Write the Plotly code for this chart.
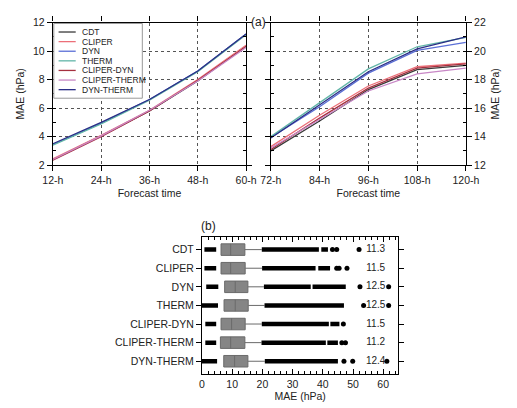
import plotly.graph_objects as go

W, H = 517, 408

series_names = ["CDT", "CLIPER", "DYN", "THERM", "CLIPER-DYN", "CLIPER-THERM", "DYN-THERM"]
series_colors = ["#3a3a3a", "#ec6f78", "#5b6fd6", "#62b5a8", "#a5303f", "#c887c6", "#2b2f86"]

hours_a = [12, 24, 36, 48, 60]
hours_b = [72, 84, 96, 108, 120]
tick_a = ["12-h", "24-h", "36-h", "48-h", "60-h"]
tick_b = ["72-h", "84-h", "96-h", "108-h", "120-h"]

mae_short = {
    "CDT":          [2.40, 4.05, 5.80, 7.90, 10.35],
    "CLIPER":       [2.45, 4.10, 5.85, 8.00, 10.40],
    "DYN":          [3.45, 4.95, 6.60, 8.60, 11.20],
    "THERM":        [3.40, 4.90, 6.55, 8.55, 11.15],
    "CLIPER-DYN":   [2.35, 4.00, 5.80, 7.95, 10.30],
    "CLIPER-THERM": [2.40, 4.05, 5.85, 7.90, 10.25],
    "DYN-THERM":    [3.50, 5.00, 6.60, 8.60, 11.20],
}
mae_long = {
    "CDT":          [13.00, 15.10, 17.30, 18.70, 19.00],
    "CLIPER":       [13.30, 15.50, 17.55, 18.90, 19.15],
    "DYN":          [13.95, 16.10, 18.45, 20.05, 20.60],
    "THERM":        [14.00, 16.40, 18.75, 20.30, 20.95],
    "CLIPER-DYN":   [13.10, 15.30, 17.40, 18.80, 19.10],
    "CLIPER-THERM": [13.20, 15.20, 17.20, 18.40, 18.80],
    "DYN-THERM":    [13.90, 16.20, 18.55, 20.15, 21.00],
}

# Box plot statistics (panel b)
box_q1 = [6.3, 6.3, 7.5, 7.3, 6.3, 6.1, 7.2]
box_med = [9.5, 9.5, 11.0, 11.0, 9.8, 9.5, 10.8]
box_q3 = [14.2, 14.3, 15.2, 15.3, 14.3, 14.2, 15.2]
box_whisk = [19.8, 19.9, 20.5, 20.7, 19.8, 19.7, 20.8]
low_runs = [[0.8, 4.7], [0.8, 4.7], [1.4, 5.4], [0.0, 5.3], [1.1, 4.7], [1.1, 4.7], [0.0, 5.0]]
high_runs = [
    [[19.8, 38.7], [39.5, 41.7]],
    [[19.9, 37.6], [38.5, 42.4]],
    [[20.5, 36.0], [36.6, 47.6]],
    [[20.7, 47.0]],
    [[19.8, 42.0], [42.5, 45.5]],
    [[19.7, 41.0], [41.5, 45.0]],
    [[20.8, 45.0]],
]
isolated = [
    [43.2, 44.6, 52.0],
    [44.6, 45.4, 48.0],
    [52.3, 61.8],
    [53.5, 61.8],
    [46.8],
    [46.3, 47.5],
    [47.0, 49.9, 61.2],
]
mean_labels = ["11.3", "11.5", "12.5", "12.5", "11.5", "11.2", "12.4"]
label_x = 57.5


def px_x(p):
    return p / W


def px_y(p):
    return 1 - p / H


FONT = "Liberation Sans, Arial, sans-serif"
TXT = "#222"

fig = go.Figure()

for name, col in zip(series_names, series_colors):
    fig.add_trace(go.Scatter(x=hours_a, y=mae_short[name], mode="lines", name=name,
                             line=dict(color=col, width=1.3), xaxis="x", yaxis="y",
                             showlegend=False))
    fig.add_trace(go.Scatter(x=hours_b, y=mae_long[name], mode="lines", name=name,
                             line=dict(color=col, width=1.3), xaxis="x2", yaxis="y2",
                             showlegend=False))

# Panel b: boxes
fig.add_trace(go.Box(
    y=series_names, q1=box_q1, median=box_med, q3=box_q3,
    lowerfence=box_q1, upperfence=box_whisk, orientation="h",
    fillcolor="#858585", line=dict(color="#6a6a6a", width=1),
    whiskerwidth=0, width=0.62, boxpoints=False,
    xaxis="x3", yaxis="y3", showlegend=False, hoverinfo="skip"))

# Dense outlier runs as thick segments
for cat, lows, highs in zip(series_names, low_runs, high_runs):
    xs, ys = [], []
    for seg in [lows] + highs:
        xs += [seg[0], seg[1], None]
        ys += [cat, cat, None]
    fig.add_trace(go.Scatter(x=xs, y=ys, mode="lines", line=dict(color="black", width=4.5),
                             xaxis="x3", yaxis="y3", showlegend=False, hoverinfo="skip"))

# Isolated outliers
for cat, pts in zip(series_names, isolated):
    fig.add_trace(go.Scatter(x=pts, y=[cat] * len(pts), mode="markers",
                             marker=dict(color="black", size=5),
                             xaxis="x3", yaxis="y3", showlegend=False, hoverinfo="skip"))

# Mean labels
fig.add_trace(go.Scatter(x=[label_x] * len(series_names), y=series_names, mode="text",
                         text=mean_labels, textfont=dict(family=FONT, size=10, color=TXT),
                         xaxis="x3", yaxis="y3", showlegend=False, hoverinfo="skip"))

axis_common = dict(showline=True, linecolor="black", linewidth=1.2, mirror="ticks",
                   tickfont=dict(family=FONT, size=10.5, color=TXT), ticklen=5,
                   tickcolor="black", zeroline=False)
grid = dict(showgrid=True, gridcolor="#555", griddash="dot", gridwidth=1)

# Manual compact legend (box, line samples, labels)
shapes = [dict(type="rect", xref="paper", yref="paper",
               x0=px_x(45), x1=px_x(138), y0=px_y(95), y1=px_y(18),
               fillcolor="white", line=dict(color="#999", width=1), layer="above")]
annotations = [
    dict(text="(a)", x=px_x(260), y=px_y(7), xref="paper", yref="paper",
         showarrow=False, font=dict(family=FONT, size=12, color=TXT)),
    dict(text="(b)", x=px_x(208), y=px_y(227), xref="paper", yref="paper",
         showarrow=False, font=dict(family=FONT, size=12, color=TXT)),
]
for i, (name, col) in enumerate(zip(series_names, series_colors)):
    yy = 26.8 + i * 9.9
    shapes.append(dict(type="line", xref="paper", yref="paper",
                       x0=px_x(50), x1=px_x(68), y0=px_y(yy), y1=px_y(yy),
                       line=dict(color=col, width=1.3), layer="above"))
    annotations.append(dict(text=name, x=px_x(72), y=px_y(yy), xref="paper", yref="paper",
                            xanchor="left", yanchor="middle", showarrow=False,
                            font=dict(family=FONT, size=8.5, color=TXT)))

fig.update_layout(
    width=W, height=H, margin=dict(l=0, r=0, t=0, b=0),
    paper_bgcolor="white", plot_bgcolor="white",
    font=dict(family=FONT, color=TXT), showlegend=False,
    xaxis=dict(domain=[px_x(44), px_x(247)], anchor="y", range=[12, 60],
               tickvals=hours_a, ticktext=tick_a, ticks="outside",
               title=dict(text="Forecast time", font=dict(size=10.5), standoff=4),
               **grid, **axis_common),
    yaxis=dict(domain=[px_y(164), px_y(17)], anchor="x", range=[2, 12], dtick=2,
               ticks="outside",
               minor=dict(dtick=1, ticks="inside", ticklen=3, tickcolor="black"),
               title=dict(text="MAE (hPa)", font=dict(size=10.5), standoff=6),
               **grid, **axis_common),
    xaxis2=dict(domain=[px_x(273), px_x(478)], anchor="y2", range=[72, 120],
                tickvals=hours_b, ticktext=tick_b, ticks="outside",
                title=dict(text="Forecast time", font=dict(size=10.5), standoff=4),
                **grid, **axis_common),
    yaxis2=dict(domain=[px_y(164), px_y(17)], anchor="x2", range=[12, 22], dtick=2,
                side="right", ticks="outside",
                minor=dict(dtick=1, ticks="inside", ticklen=3, tickcolor="black"),
                title=dict(text="MAE (hPa)", font=dict(size=10.5), standoff=6),
                **grid, **axis_common),
    xaxis3=dict(domain=[px_x(200.7), px_x(407)], anchor="y3", range=[0, 65], dtick=10,
                ticks="inside", showgrid=False,
                minor=dict(dtick=2, ticks="inside", ticklen=3, tickcolor="black"),
                title=dict(text="MAE (hPa)", font=dict(size=10.5), standoff=4),
                **axis_common),
    yaxis3=dict(domain=[px_y(379), px_y(238)], anchor="x3", autorange="reversed",
                type="category", ticks="outside", showgrid=False, **axis_common),
    shapes=shapes,
    annotations=annotations,
)

fig.write_html("out.html")
